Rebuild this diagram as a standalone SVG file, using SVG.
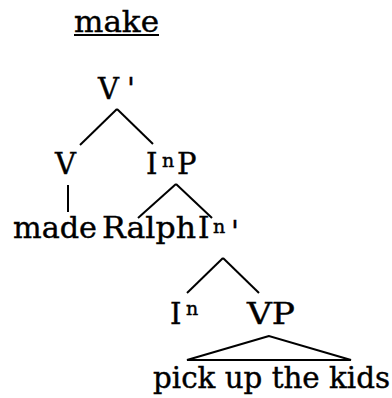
<svg xmlns="http://www.w3.org/2000/svg" width="392" height="398" viewBox="0 0 392 398">
<style>
text{font-family:"DejaVu Serif","Liberation Serif",serif;font-size:29px;fill:#000;stroke:#000;stroke-width:0.4}
.sup{font-size:19px}
.ln{stroke:#000;stroke-width:2;fill:none;stroke-linecap:butt}
</style>
<rect width="392" height="398" fill="#fff"/>
<g id="title">
<text x="74" y="32" textLength="85" lengthAdjust="spacingAndGlyphs">make</text>
<line class="ln" x1="74" y1="35" x2="159" y2="35" stroke-width="1.5"/>
</g>
<g id="connectors">
<line class="ln" x1="117" y1="109" x2="80" y2="145"/>
<line class="ln" x1="117" y1="109" x2="153" y2="144"/>
<line class="ln" x1="68" y1="185" x2="68" y2="212"/>
<line class="ln" x1="176" y1="184" x2="138" y2="218"/>
<line class="ln" x1="176" y1="184" x2="212" y2="218"/>
<line class="ln" x1="223" y1="258" x2="187" y2="293"/>
<line class="ln" x1="223" y1="258" x2="259" y2="293"/>
<polygon class="ln" points="269,336 187,360 351,360"/>
</g>
<g id="node-Vbar">
<text x="98" y="99">V</text>
<text x="127" y="99">'</text>
</g>
<g id="node-V">
<text x="55" y="174">V</text>
</g>
<g id="node-InP">
<text x="146" y="174">I</text>
<text x="162" y="167" class="sup">n</text>
<text x="177" y="174">P</text>
</g>
<g id="node-made">
<text x="13" y="238" textLength="84" lengthAdjust="spacingAndGlyphs">made</text>
</g>
<g id="node-Ralph">
<text x="102" y="238" textLength="94" lengthAdjust="spacingAndGlyphs">Ralph</text>
</g>
<g id="node-Inbar">
<text x="198" y="238">I</text>
<text x="213" y="233" class="sup">n</text>
<text x="231" y="242">'</text>
</g>
<g id="node-In">
<text x="170" y="324">I</text>
<text x="186" y="315" class="sup">n</text>
</g>
<g id="node-VP">
<text x="247" y="324" textLength="48" lengthAdjust="spacingAndGlyphs">VP</text>
</g>
<g id="node-pick">
<text x="153" y="388" textLength="237" lengthAdjust="spacingAndGlyphs">pick up the kids</text>
</g>
</svg>
